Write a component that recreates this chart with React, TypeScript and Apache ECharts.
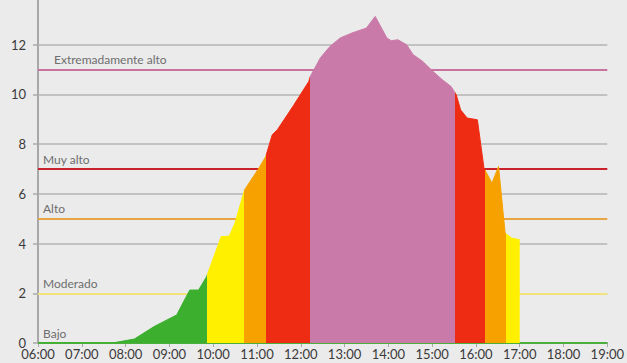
import React, { useEffect, useRef } from "react";
import * as echarts from "echarts";

// Measurement times (local clock) and UV index values
const times = [
  "06:00", "07:42", "08:12", "08:39", "09:10", "09:23", "09:28", "09:40", "09:51",
  "10:11", "10:22", "10:30", "10:41", "10:43", "11:03", "11:12", "11:21", "11:28",
  "11:50", "12:11", "12:13", "12:27", "12:40", "12:54", "13:10", "13:30", "13:42",
  "13:58", "14:04", "14:13", "14:25", "14:34", "14:47", "15:01", "15:14", "15:26",
  "15:33", "15:39", "15:48", "16:02", "16:11", "16:22", "16:31", "16:40", "16:49", "17:00",
];
const uvValues = [
  0, 0, 0.16, 0.66, 1.13, 1.86, 2.13, 2.13, 2.67,
  4.28, 4.3, 4.83, 5.96, 6.16, 7.05, 7.5, 8.38, 8.58,
  9.55, 10.52, 10.72, 11.48, 11.93, 12.27, 12.47, 12.67, 13.14,
  12.27, 12.16, 12.2, 12.0, 11.6, 11.33, 10.93, 10.59, 10.32,
  9.99, 9.38, 9.05, 8.98, 7.04, 6.43, 7.1, 4.42, 4.22, 4.15,
];

// Colour bands along time (start time of each band)
const bandStarts = ["06:00", "09:51", "10:42", "11:12", "12:12", "15:31", "16:12", "16:41"];
const bandColors = ["#3cb02e", "#fff000", "#f7a100", "#ee2b13", "#c97aa8", "#ee2b13", "#f7a100", "#fff000"];

// Threshold lines
const thresholdNames = ["Extremadamente alto", "Muy alto", "Alto", "Moderado", "Bajo"];
const thresholdValues = [11, 7, 5, 2, 0];
const thresholdColors = ["#c9719f", "#c9222a", "#e9a443", "#f3e27a", "#4cae3c"];

const toMin = (s: string) => {
  const [h, m] = s.split(":").map(Number);
  return h * 60 + m;
};
const fmt = (v: number) => {
  const h = Math.floor(v / 60);
  const m = Math.round(v % 60);
  return `${String(h).padStart(2, "0")}:${String(m).padStart(2, "0")}`;
};

export default function App() {
  const ref = useRef<HTMLDivElement>(null);
  useEffect(() => {
    if (!ref.current) return;
    const chart = echarts.init(ref.current, undefined, { renderer: "svg" });
    const starts = bandStarts.map(toMin);
    const pieces = starts.map((s, i) => {
      const p: any = { color: bandColors[i] };
      if (i > 0) p.gte = s;
      if (i < starts.length - 1) p.lt = starts[i + 1];
      return p;
    });
    const font = "Lato";
    chart.setOption({
      animation: false,
      backgroundColor: "#ebebeb",
      textStyle: { fontFamily: font },
      grid: { left: 38, right: 13, top: 0, bottom: 20 },
      xAxis: {
        type: "value",
        min: 360,
        max: 1140,
        interval: 60,
        axisLine: { show: true, lineStyle: { color: "#a8a8a8", width: 1.5 } },
        axisTick: { show: true, length: 4, lineStyle: { color: "#a8a8a8" } },
        splitLine: { show: false },
        axisLabel: { formatter: (v: number) => fmt(v), fontSize: 13, color: "#3a3a3a", margin: 4, fontFamily: font },
      },
      yAxis: {
        type: "value",
        min: 0,
        max: 14,
        interval: 2,
        axisLine: { show: true, lineStyle: { color: "#a8a8a8", width: 2 } },
        axisTick: { show: true, length: 5, lineStyle: { color: "#aaaaaa", width: 1.5 } },
        splitLine: { show: true, lineStyle: { color: "#b5b5b5", width: 1.5 } },
        axisLabel: { showMaxLabel: false, fontSize: 13, color: "#3a3a3a", margin: 12, fontFamily: font },
      },
      visualMap: {
        type: "piecewise",
        show: false,
        dimension: 0,
        seriesIndex: 0,
        pieces,
      },
      series: [
        {
          type: "line",
          z: 3,
          showSymbol: false,
          symbol: "none",
          lineStyle: { width: 1 },
          areaStyle: { opacity: 1 },
          data: times.map((t, i) => [toMin(t), uvValues[i]]),
          markLine: {
            silent: true,
            symbol: "none",
            z: 1,
            animation: false,
            data: thresholdNames.map((n, i) => ({
              yAxis: thresholdValues[i],
              lineStyle: { color: thresholdColors[i], width: 2, type: "solid" },
              label: {
                show: true,
                formatter: n,
                position: "insideStartTop",
                distance: [i === 0 ? 16 : 5, 4],
                color: "#6e6e6e",
                fontSize: 12,
                fontFamily: font,
              },
            })),
          },
        },
      ],
    });
    return () => chart.dispose();
  }, []);
  return (
    <div
      ref={ref}
      style={{ position: "fixed", left: 0, top: -5, width: 627, height: 368 }}
    />
  );
}
